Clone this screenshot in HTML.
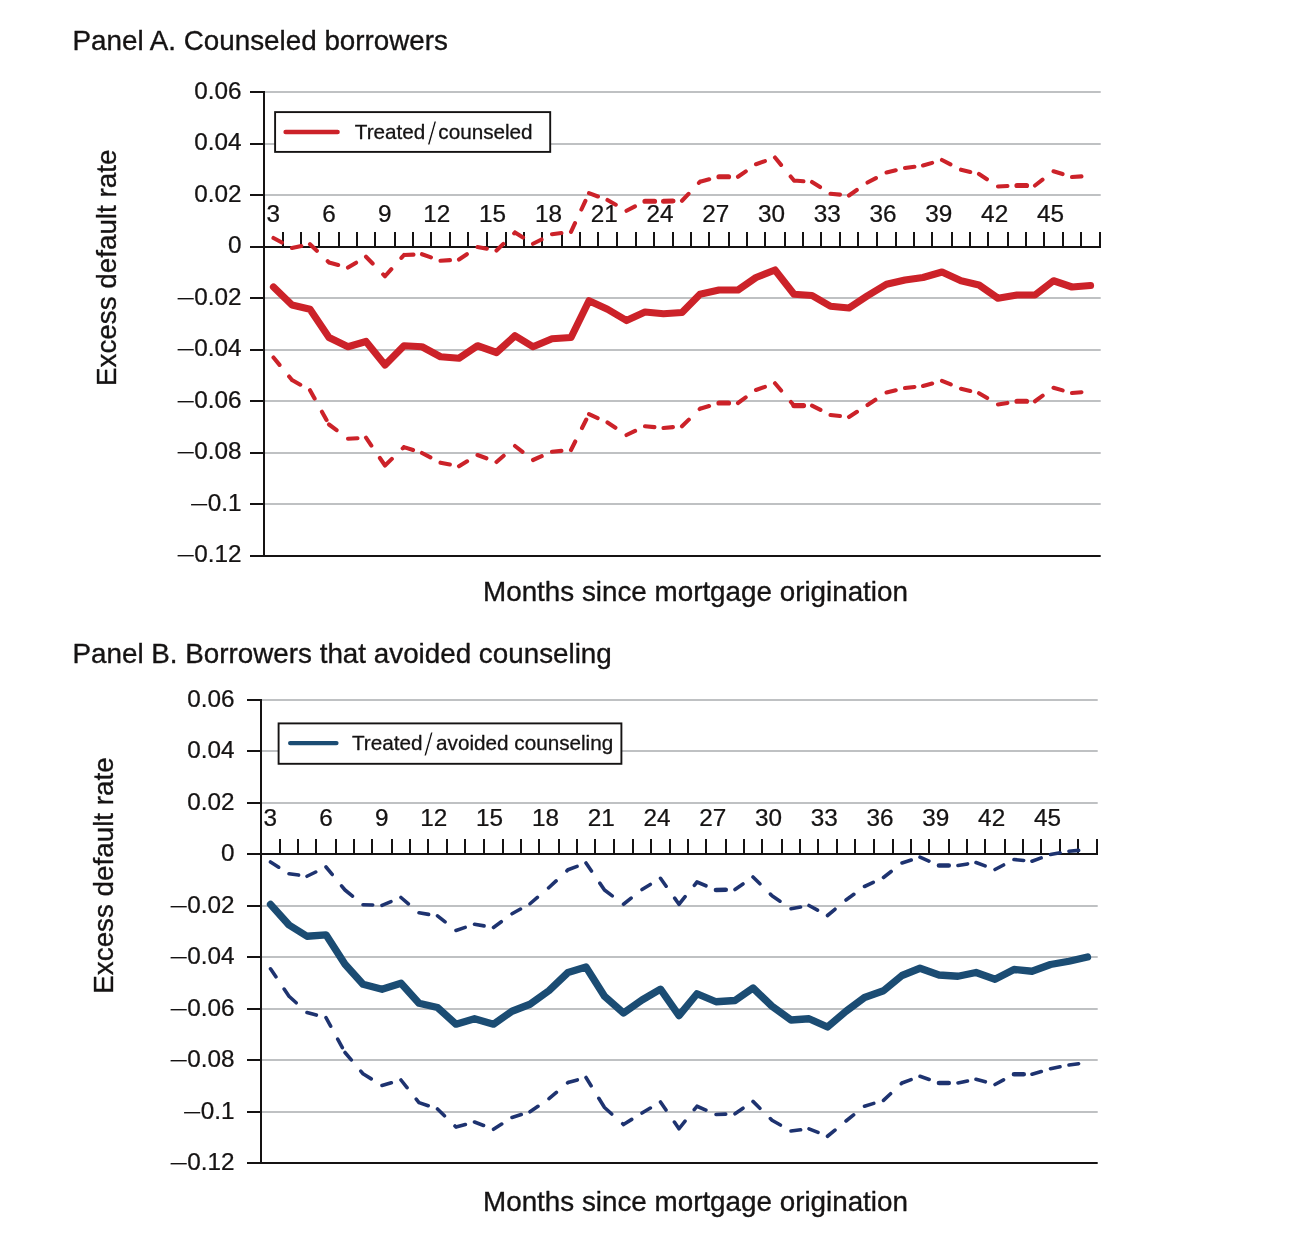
<!DOCTYPE html>
<html lang="en">
<head>
<meta charset="utf-8">
<title>Excess default rate by months since mortgage origination</title>
<style>
html,body{margin:0;padding:0;background:#fff;}
body{width:1296px;height:1234px;overflow:hidden;}
svg{display:block;}
text{font-family:"Liberation Sans", Arial, Helvetica, sans-serif;stroke:#151313;stroke-width:0.35px;stroke-linejoin:round;}
.tk text{stroke-width:0.25px;}
.lg{stroke-width:0.3px;}
.mn{stroke:#fff;stroke-width:1.1px;}
.sl{stroke:#fff;stroke-width:1px;}
</style>
</head>
<body>
<svg width="1296" height="1234" viewBox="0 0 1296 1234">
<rect width="1296" height="1234" fill="#ffffff"/>
<g id="panel-a">
<g stroke="#bfc1c3" stroke-width="1.8" fill="none">
<line x1="264" y1="92" x2="1100.7" y2="92"/>
<line x1="264" y1="144" x2="1100.7" y2="144"/>
<line x1="264" y1="195" x2="1100.7" y2="195"/>
<line x1="264" y1="298" x2="1100.7" y2="298"/>
<line x1="264" y1="350" x2="1100.7" y2="350"/>
<line x1="264" y1="401" x2="1100.7" y2="401"/>
<line x1="264" y1="453" x2="1100.7" y2="453"/>
<line x1="264" y1="504" x2="1100.7" y2="504"/>
</g>
<g stroke="#151313" stroke-width="2.0" fill="none">
<line x1="264" y1="91" x2="264" y2="557"/>
<line x1="264" y1="556" x2="1100.7" y2="556"/>
<line x1="264" y1="247" x2="1101" y2="247"/>
<path d="M250 92H264M250 144H264M250 195H264M250 247H264M250 298H264M250 350H264M250 401H264M250 453H264M250 504H264M250 556H264"/>
<path d="M283 247V232M301 247V232M319 247V232M339 247V232M357 247V232M375 247V232M395 247V232M413 247V232M431 247V232M450 247V232M468 247V232M487 247V232M506 247V232M524 247V232M542 247V232M562 247V232M580 247V232M598 247V232M617 247V232M636 247V232M654 247V232M673 247V232M691 247V232M709 247V232M729 247V232M747 247V232M765 247V232M785 247V232M803 247V232M821 247V232M840 247V232M858 247V232M877 247V232M896 247V232M914 247V232M932 247V232M952 247V232M970 247V232M988 247V232M1008 247V232M1026 247V232M1044 247V232M1063 247V232M1081 247V232M1100 247V232"/>
</g>
<g class="tk" font-size="23.5" fill="#151313" text-anchor="end">
<text transform="translate(241.5 99) scale(1.035 1)">0.06</text>
<text transform="translate(241.5 150) scale(1.035 1)">0.04</text>
<text transform="translate(241.5 202) scale(1.035 1)">0.02</text>
<text transform="translate(241.5 253) scale(1.035 1)">0</text>
<text transform="translate(241.5 305) scale(1.035 1)"><tspan class="mn" font-size="34.6" x="-44.03" dy="5">−</tspan><tspan x="0" dy="-5">0.02</tspan></text>
<text transform="translate(241.5 356) scale(1.035 1)"><tspan class="mn" font-size="34.6" x="-44.03" dy="5">−</tspan><tspan x="0" dy="-5">0.04</tspan></text>
<text transform="translate(241.5 408) scale(1.035 1)"><tspan class="mn" font-size="34.6" x="-44.03" dy="5">−</tspan><tspan x="0" dy="-5">0.06</tspan></text>
<text transform="translate(241.5 459) scale(1.035 1)"><tspan class="mn" font-size="34.6" x="-44.03" dy="5">−</tspan><tspan x="0" dy="-5">0.08</tspan></text>
<text transform="translate(241.5 511) scale(1.035 1)"><tspan class="mn" font-size="34.6" x="-30.97" dy="5">−</tspan><tspan x="0" dy="-5">0.1</tspan></text>
<text transform="translate(241.5 562) scale(1.035 1)"><tspan class="mn" font-size="34.6" x="-44.03" dy="5">−</tspan><tspan x="0" dy="-5">0.12</tspan></text>
</g>
<g class="tk" font-size="23.5" fill="#151313" text-anchor="middle">
<text transform="translate(273.3 221.6) scale(1.035 1)">3</text>
<text transform="translate(329.08 221.6) scale(1.035 1)">6</text>
<text transform="translate(384.86 221.6) scale(1.035 1)">9</text>
<text transform="translate(436.84 221.6) scale(1.035 1)">12</text>
<text transform="translate(492.62 221.6) scale(1.035 1)">15</text>
<text transform="translate(548.4 221.6) scale(1.035 1)">18</text>
<text transform="translate(604.18 221.6) scale(1.035 1)">21</text>
<text transform="translate(659.96 221.6) scale(1.035 1)">24</text>
<text transform="translate(715.74 221.6) scale(1.035 1)">27</text>
<text transform="translate(771.52 221.6) scale(1.035 1)">30</text>
<text transform="translate(827.3 221.6) scale(1.035 1)">33</text>
<text transform="translate(883.08 221.6) scale(1.035 1)">36</text>
<text transform="translate(938.86 221.6) scale(1.035 1)">39</text>
<text transform="translate(994.64 221.6) scale(1.035 1)">42</text>
<text transform="translate(1050.42 221.6) scale(1.035 1)">45</text>
</g>
<g fill="none" stroke-linejoin="round" stroke-linecap="round">
<path d="M273.5 238L292 248M292 248L310 244.2M310 244.2L329 262.5M329 262.5L348 267.6M348 267.6L366 256.75M366 256.75L385 276.25M385 276.25L404 255M404 255L422 254.2M422 254.2L440.5 260.75M440.5 260.75L459 259.5M459 259.5L477.5 247M477.5 247L496.5 250.5M496.5 250.5L515 232.5M515 232.5L533 243.75M533 243.75L552 234.25M552 234.25L571 231.8M571 231.8L589 193.2M589 193.2L607.5 200M607.5 200L626.5 210.75M626.5 210.75L645 201.25M682 200.75L700 181.75M700 181.75L719 176.75M738 176.75L756 164.25M756 164.25L775 157.5M775 157.5L794 180.5M794 180.5L812 182M812 182L830.5 193.75M830.5 193.75L849 195.5M849 195.5L867.5 182.5M867.5 182.5L886.5 172.5M886.5 172.5L905 168M905 168L923 165.5M923 165.5L942 160M942 160L961 169.7M961 169.7L979 174M979 174L998 186.5M998 186.5L1017 185.5M1035 185.5L1053.5 171.25M1053.5 171.25L1072 177M1072 177L1090.5 175.75" stroke="#cc2229" stroke-width="4.1" stroke-dasharray="9.5 15.1"/>
<path d="M645 201.25L663.5 201.25M663.5 201.25L682 200.75M719 176.75L738 176.75M1017 185.5L1035 185.5" stroke="#cc2229" stroke-width="5.199999999999999" stroke-dasharray="9.5 15.1"/>
<path d="M273.5 357.5L292 380M292 380L310 390.2M310 390.2L329 424.5M329 424.5L348 438.75M348 438.75L366 437.7M366 437.7L385 465.5M385 465.5L404 447.1M404 447.1L422 453M422 453L440.5 462.7M440.5 462.7L459 466.25M459 466.25L477.5 455M477.5 455L496.5 462M496.5 462L515 446M515 446L533 460M533 460L552 451.75M552 451.75L571 450M571 450L589 414.1M589 414.1L607.5 422.5M607.5 422.5L626.5 435M626.5 435L645 426.25M645 426.25L663.5 428M663.5 428L682 426.25M682 426.25L700 408.75M700 408.75L719 403M738 403L756 390M756 390L775 383.25M775 383.25L794 405.6M812 405.6L830.5 415M830.5 415L849 417M849 417L867.5 405M867.5 405L886.5 392.5M886.5 392.5L905 388M905 388L923 386M923 386L942 380.8M942 380.8L961 388.75M961 388.75L979 393.2M979 393.2L998 404.5M998 404.5L1017 401.25M1035 401.25L1053.5 387.8M1053.5 387.8L1072 393M1072 393L1090.5 391.5" stroke="#cc2229" stroke-width="4.1" stroke-dasharray="9.5 15.1"/>
<path d="M719 403L738 403M794 405.6L812 405.6M1017 401.25L1035 401.25" stroke="#cc2229" stroke-width="5.199999999999999" stroke-dasharray="9.5 15.1"/>
<polyline points="273.5,287 292,305 310,309.25 329,337.5 348,346.75 366,341.5 385,365 404,345.75 422,346.75 440.5,356.75 459,358.25 477.5,345.75 496.5,352.5 515,335.75 533,346.75 552,338.75 571,337.5 589,300.75 607.5,309.25 626.5,320.5 645,312 663.5,313.75 682,312.5 700,294.25 719,290 738,290 756,277.5 775,270 794,294.25 812,295.5 830.5,306.25 849,308 867.5,295.75 886.5,284.25 905,280 923,277.5 942,272 961,280.75 979,285 998,298.2 1017,295 1035,295 1053.5,280.75 1072,287 1090.5,285.5" stroke="#cc2229" stroke-width="7.2"/>
</g>
<rect x="275.1" y="112.1" width="275.1" height="39.8" fill="#fff" stroke="#151313" stroke-width="1.9"/>
<line x1="285.6" y1="132" x2="337.6" y2="132" stroke="#cc2229" stroke-width="4.4" stroke-linecap="round"/>
<text class="lg" x="354.8" y="139.3" font-size="20.7" fill="#151313">Treated<tspan class="sl" x="427.2" dy="6" font-size="34">/</tspan><tspan x="438.3" dy="-6">counseled</tspan></text>
<text x="72.5" y="50" font-size="27.8" fill="#151313">Panel A. Counseled borrowers</text>
<text x="695.5" y="601" font-size="27.8" fill="#151313" text-anchor="middle">Months since mortgage origination</text>
<text transform="translate(116.2 267.8) rotate(-90)" font-size="27.8" fill="#151313" text-anchor="middle">Excess default rate</text>
</g>
<g id="panel-b">
<g stroke="#bfc1c3" stroke-width="1.8" fill="none">
<line x1="261" y1="700" x2="1097.7" y2="700"/>
<line x1="261" y1="751" x2="1097.7" y2="751"/>
<line x1="261" y1="803" x2="1097.7" y2="803"/>
<line x1="261" y1="906" x2="1097.7" y2="906"/>
<line x1="261" y1="957" x2="1097.7" y2="957"/>
<line x1="261" y1="1009" x2="1097.7" y2="1009"/>
<line x1="261" y1="1060" x2="1097.7" y2="1060"/>
<line x1="261" y1="1112" x2="1097.7" y2="1112"/>
</g>
<g stroke="#151313" stroke-width="2.0" fill="none">
<line x1="261" y1="699" x2="261" y2="1164"/>
<line x1="261" y1="1163" x2="1097.7" y2="1163"/>
<line x1="261" y1="854" x2="1098" y2="854"/>
<path d="M247 700H261M247 751H261M247 803H261M247 854H261M247 906H261M247 957H261M247 1009H261M247 1060H261M247 1112H261M247 1163H261"/>
<path d="M280 854V839M298 854V839M316 854V839M336 854V839M354 854V839M372 854V839M392 854V839M410 854V839M428 854V839M447 854V839M465 854V839M484 854V839M503 854V839M521 854V839M539 854V839M559 854V839M577 854V839M595 854V839M614 854V839M633 854V839M651 854V839M670 854V839M688 854V839M706 854V839M726 854V839M744 854V839M762 854V839M782 854V839M800 854V839M818 854V839M837 854V839M855 854V839M874 854V839M893 854V839M911 854V839M929 854V839M949 854V839M967 854V839M985 854V839M1005 854V839M1023 854V839M1041 854V839M1060 854V839M1078 854V839M1097 854V839"/>
</g>
<g class="tk" font-size="23.5" fill="#151313" text-anchor="end">
<text transform="translate(234.5 707) scale(1.035 1)">0.06</text>
<text transform="translate(234.5 758) scale(1.035 1)">0.04</text>
<text transform="translate(234.5 810) scale(1.035 1)">0.02</text>
<text transform="translate(234.5 861) scale(1.035 1)">0</text>
<text transform="translate(234.5 913) scale(1.035 1)"><tspan class="mn" font-size="34.6" x="-44.03" dy="5">−</tspan><tspan x="0" dy="-5">0.02</tspan></text>
<text transform="translate(234.5 964) scale(1.035 1)"><tspan class="mn" font-size="34.6" x="-44.03" dy="5">−</tspan><tspan x="0" dy="-5">0.04</tspan></text>
<text transform="translate(234.5 1016) scale(1.035 1)"><tspan class="mn" font-size="34.6" x="-44.03" dy="5">−</tspan><tspan x="0" dy="-5">0.06</tspan></text>
<text transform="translate(234.5 1067) scale(1.035 1)"><tspan class="mn" font-size="34.6" x="-44.03" dy="5">−</tspan><tspan x="0" dy="-5">0.08</tspan></text>
<text transform="translate(234.5 1119) scale(1.035 1)"><tspan class="mn" font-size="34.6" x="-30.97" dy="5">−</tspan><tspan x="0" dy="-5">0.1</tspan></text>
<text transform="translate(234.5 1170) scale(1.035 1)"><tspan class="mn" font-size="34.6" x="-44.03" dy="5">−</tspan><tspan x="0" dy="-5">0.12</tspan></text>
</g>
<g class="tk" font-size="23.5" fill="#151313" text-anchor="middle">
<text transform="translate(270.3 825.6) scale(1.035 1)">3</text>
<text transform="translate(326.08 825.6) scale(1.035 1)">6</text>
<text transform="translate(381.86 825.6) scale(1.035 1)">9</text>
<text transform="translate(433.84 825.6) scale(1.035 1)">12</text>
<text transform="translate(489.62 825.6) scale(1.035 1)">15</text>
<text transform="translate(545.4 825.6) scale(1.035 1)">18</text>
<text transform="translate(601.18 825.6) scale(1.035 1)">21</text>
<text transform="translate(656.96 825.6) scale(1.035 1)">24</text>
<text transform="translate(712.74 825.6) scale(1.035 1)">27</text>
<text transform="translate(768.52 825.6) scale(1.035 1)">30</text>
<text transform="translate(824.3 825.6) scale(1.035 1)">33</text>
<text transform="translate(880.08 825.6) scale(1.035 1)">36</text>
<text transform="translate(935.86 825.6) scale(1.035 1)">39</text>
<text transform="translate(991.64 825.6) scale(1.035 1)">42</text>
<text transform="translate(1047.42 825.6) scale(1.035 1)">45</text>
</g>
<g fill="none" stroke-linejoin="round" stroke-linecap="round">
<path d="M270.5 862L289 873.75M289 873.75L307 876.25M307 876.25L326 867M326 867L345 890M345 890L363 904.75M363 904.75L382 905.3M382 905.3L401 897.5M401 897.5L419 912.8M419 912.8L437.5 915.8M437.5 915.8L456 930.5M456 930.5L474.5 924.2M474.5 924.2L493.5 927.5M493.5 927.5L512 913.75M512 913.75L530 903.75M530 903.75L549 887.5M549 887.5L568 869.8M568 869.8L586 863M586 863L604.5 890M604.5 890L623.5 904.25M623.5 904.25L642 889.5M642 889.5L660.5 878.3M660.5 878.3L679 904.25M679 904.25L697 882M697 882L716 890M735 889.5L753 877M753 877L772 895.7M772 895.7L791 908.75M791 908.75L809 905.5M809 905.5L827.5 915.5M827.5 915.5L846 900M846 900L864.5 886.5M864.5 886.5L883.5 877.5M883.5 877.5L902 863M902 863L920 857.2M920 857.2L939 865.5M958 865.5L976 862.5M976 862.5L995 869.5M995 869.5L1014 859.5M1014 859.5L1032 861.25M1032 861.25L1050.5 854.5M1050.5 854.5L1069 851.25M1069 851.25L1087.5 849.5" stroke="#1e3370" stroke-width="3.6" stroke-dasharray="9.7 14.7"/>
<path d="M716 890L735 889.5M939 865.5L958 865.5" stroke="#1e3370" stroke-width="4.7" stroke-dasharray="9.7 14.7"/>
<path d="M270.5 968.8L289 996.25M289 996.25L307 1012.5M307 1012.5L326 1017.7M326 1017.7L345 1052.5M345 1052.5L363 1073.75M363 1073.75L382 1085.5M382 1085.5L401 1080M401 1080L419 1102.6M419 1102.6L437.5 1109M437.5 1109L456 1127M456 1127L474.5 1122M474.5 1122L493.5 1129.25M493.5 1129.25L512 1117.5M512 1117.5L530 1111.8M530 1111.8L549 1098.7M549 1098.7L568 1082.5M568 1082.5L586 1077.5M586 1077.5L604.5 1107.5M604.5 1107.5L623.5 1124.5M623.5 1124.5L642 1113M642 1113L660.5 1102M660.5 1102L679 1128.75M679 1128.75L697 1106.25M697 1106.25L716 1114.5M716 1114.5L735 1113.75M735 1113.75L753 1101.4M753 1101.4L772 1120.2M772 1120.2L791 1131M791 1131L809 1128.8M809 1128.8L827.5 1136.25M827.5 1136.25L846 1121M846 1121L864.5 1106.25M864.5 1106.25L883.5 1100.4M883.5 1100.4L902 1083M902 1083L920 1076.25M920 1076.25L939 1083M958 1083L976 1079.25M976 1079.25L995 1084.5M995 1084.5L1014 1074.25M1032 1074.25L1050.5 1068.75M1050.5 1068.75L1069 1065M1069 1065L1087.5 1062.5" stroke="#1e3370" stroke-width="3.6" stroke-dasharray="9.7 14.7"/>
<path d="M939 1083L958 1083M1014 1074.25L1032 1074.25" stroke="#1e3370" stroke-width="4.7" stroke-dasharray="9.7 14.7"/>
<polyline points="270.5,904.4 289,925 307,936.25 326,934.8 345,964.25 363,984.25 382,989.25 401,983.25 419,1003.25 437.5,1007.5 456,1024.2 474.5,1018.75 493.5,1024.2 512,1011.25 530,1004.25 549,990.6 568,972.5 586,967 604.5,996.25 623.5,1013 642,1000 660.5,989.2 679,1015.6 697,993.75 716,1001.75 735,1000.5 753,988 772,1006.25 791,1020 809,1018.75 827.5,1027 846,1011.25 864.5,997.5 883.5,990.75 902,975.5 920,968.25 939,975 958,976.25 976,972.5 995,979.25 1014,969.5 1032,971.25 1050.5,964.5 1069,961.25 1087.5,957" stroke="#1b4c73" stroke-width="7.3"/>
</g>
<rect x="278.6" y="723.4" width="342.8" height="40.4" fill="#fff" stroke="#151313" stroke-width="1.9"/>
<line x1="290.2" y1="743.1" x2="336.4" y2="743.1" stroke="#1b4c73" stroke-width="4.4" stroke-linecap="round"/>
<text class="lg" x="352" y="750.4" font-size="20.7" fill="#151313">Treated<tspan class="sl" x="423.8" dy="6" font-size="34">/</tspan><tspan x="436.1" dy="-6">avoided counseling</tspan></text>
<text x="72.5" y="663" font-size="27.8" fill="#151313">Panel B. Borrowers that avoided counseling</text>
<text x="695.5" y="1211" font-size="27.8" fill="#151313" text-anchor="middle">Months since mortgage origination</text>
<text transform="translate(113.2 875.5) rotate(-90)" font-size="27.8" fill="#151313" text-anchor="middle">Excess default rate</text>
</g>
</svg>
</body>
</html>
